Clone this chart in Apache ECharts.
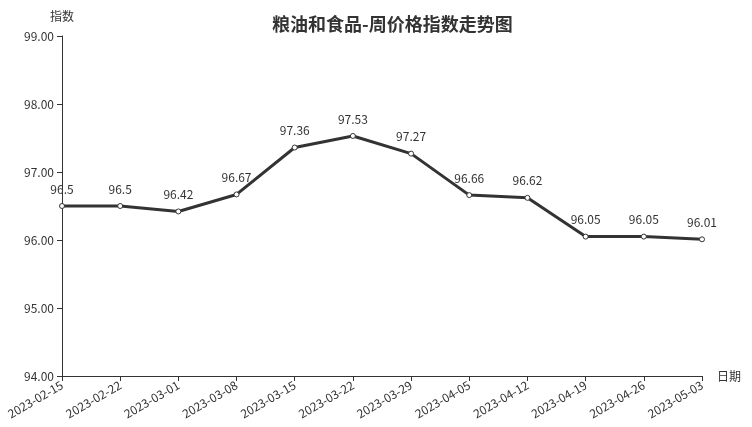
<!DOCTYPE html>
<html>
<head>
<meta charset="utf-8">
<script src="https://cdn.jsdelivr.net/npm/echarts@6/dist/echarts.min.js"></script>
<style>
  html, body { margin: 0; padding: 0; background: #fff; }
  #main { width: 752px; height: 427px; }
</style>
</head>
<body>
<div id="main"></div>
<script>
const dates = [
  "2023-02-15", "2023-02-22", "2023-03-01", "2023-03-08",
  "2023-03-15", "2023-03-22", "2023-03-29", "2023-04-05",
  "2023-04-12", "2023-04-19", "2023-04-26", "2023-05-03",
];
const indexValues = [96.5, 96.5, 96.42, 96.67, 97.36, 97.53, 97.27, 96.66, 96.62, 96.05, 96.05, 96.01];

const font = "'Noto Sans CJK SC', 'Noto Sans', sans-serif";
const chart = echarts.init(document.getElementById("main"));
chart.setOption({
  animation: false,
  textStyle: { fontFamily: font },
  title: {
    text: "粮油和食品-周价格指数走势图",
    left: 267,
    top: 10,
    textStyle: { fontSize: 18, fontWeight: "bold", color: "#333", fontFamily: font },
  },
  grid: { left: 62, right: 50, top: 36, bottom: 51 },
  xAxis: {
    type: "category",
    data: dates,
    boundaryGap: false,
    name: "日期",
    nameGap: 15,
    nameTextStyle: { color: "#333", fontSize: 12 },
    axisLine: { lineStyle: { color: "#333" } },
    axisTick: { alignWithLabel: true },
    axisLabel: { rotate: 30, color: "#333", fontSize: 12, interval: 0, margin: 8 },
  },
  yAxis: {
    type: "value",
    min: 94,
    max: 99,
    interval: 1,
    name: "指数",
    nameGap: 14,
    nameTextStyle: { color: "#333", fontSize: 12 },
    axisLine: { show: true, lineStyle: { color: "#333" } },
    axisTick: { show: true },
    splitLine: { show: false },
    axisLabel: { color: "#333", fontSize: 12, formatter: (v) => v.toFixed(2) },
  },
  series: [
    {
      type: "line",
      data: indexValues,
      symbol: "circle",
      symbolSize: 5,
      itemStyle: { color: "#fff", borderColor: "#333", borderWidth: 1 },
      lineStyle: { color: "#333", width: 3 },
      label: { show: true, position: "top", color: "#333", fontSize: 12, distance: 8 },
    },
  ],
});
</script>
</body>
</html>
